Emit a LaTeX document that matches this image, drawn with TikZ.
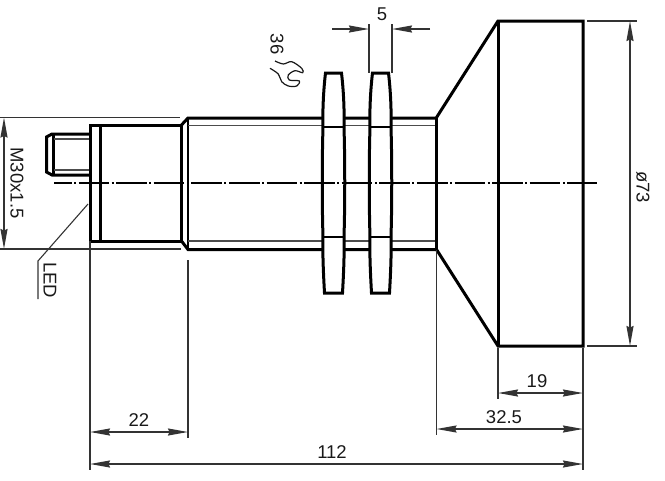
\documentclass[tikz,border=0pt]{standalone}
\usepackage{fontspec}
\setmainfont{Liberation Sans}
\usetikzlibrary{arrows.meta}

\definecolor{dimgray}{gray}{0.2}

\newcommand{\nutshape}[2]{%
  % #1 left, #2 right edge of the nut
  \draw[part,fill=white] (#1+2.5,73) -- (#2-2.5,73)
    .. controls (#2-.5,90) and (#2+.5,110) .. (#2,127)
    .. controls (#2+1,160) and (#2+1,205) .. (#2,237)
    .. controls (#2+.5,255) and (#2-.5,275) .. (#2-1.5,293)
    -- (#1+1.5,293)
    .. controls (#1+.5,275) and (#1-.5,255) .. (#1,237)
    .. controls (#1-1,205) and (#1-1,160) .. (#1,127)
    .. controls (#1-.5,110) and (#1+.5,90) .. (#1+2.5,73) -- cycle;
  \draw[inner] (#1,127) -- (#2,127) (#1,237) -- (#2,237);
}

\begin{document}
\begin{tikzpicture}[x=1pt,y=-1pt,>={Stealth[length=20pt,width=7pt,inset=1.5pt]},
    part/.style={line width=3pt,black,line join=miter},
    inner/.style={line width=2.3pt,black},
    thin part/.style={line width=1.5pt,black!70},
    dim/.style={line width=1.4pt,dimgray},
    label/.style={font=\fontsize{18.5}{20}\selectfont,text=black!90,inner sep=0pt}]

    \useasboundingbox (0,0) rectangle (665,480);

    % connector
    \draw[part] (90,134) -- (52,134) -- (46.5,137) -- (46.5,172) -- (52,175) -- (90,175);
    \draw[inner] (53.5,135) -- (53.5,174);
    \draw[thin part] (54,139) -- (90,139) (54,170) -- (90,170);

    % housing
    \draw[part] (90,125) rectangle (181.5,241);
    \draw[part] (100,125) -- (100,241);
    \draw[part] (181.5,125) -- (188,118) -- (436,118);
    \draw[part] (181.5,241) -- (188,249.5) -- (436,249.5);
    \draw[inner] (188,118) -- (188,249.5);
    \draw[thin part] (188,125.5) -- (436,125.5) (188,241) -- (436,241);

    % nuts
    \nutshape{323}{344}
    \nutshape{370}{391}

    % head
    \draw[inner] (436.5,117) -- (436.5,249.5);
    \draw[part] (436.5,117.5) -- (498,21) -- (583,21) -- (583,346) -- (498,346) -- (436.5,249.5);
    \draw[part] (498,21) -- (498,346);

    % axis
    \draw[line width=1.3pt,black,dash pattern=on 30.6pt off 2.5pt on 2pt off 2.5pt,dash phase=13.1pt]
        (54,183) -- (597,183);

    % spanner
    \draw[line width=1.2pt,black!90] plot[smooth,tension=.55] coordinates
        {(275,61) (283.3,64) (291.7,61.7) (301.7,68.3) (302.7,72.7) (295,70.7) (288.3,75)
         (289.3,80) (299.3,81) (296.7,86) (288.3,86) (281.7,81.7) (278.3,74) (270,68.3)};
    \node[label,rotate=-90] (wrench) at (277,44) {36};

    % extension lines
    \coordinate (m30top) at (4,117.5);
    \coordinate (m30bot) at (4,249);
    \draw[dim] (0,117.5) -- (180,117.5) (0,249) -- (181,249);
    \draw[dim] (369,24) -- (369,73) (392,24) -- (392,73);
    \draw[dim] (587,21) -- (637,21) (587,346) -- (637,346);
    \draw[dim] (90,241) -- (90,470);
    \draw[dim] (188,260) -- (188,438);
    \draw[dim] (436.5,250) -- (436.5,435);
    \draw[dim] (498,348) -- (498,399);
    \draw[dim] (583,348) -- (583,470);

    % dimensions
    \draw[dim,<->] (m30top) -- (m30bot);
    \node[label,rotate=-90] (m30) at (17,183) {M30x1.5};

    \coordinate (a5) at (332,29);
    \coordinate (b5) at (369,29);
    \coordinate (c5) at (392,29);
    \coordinate (d5) at (430,29);
    \draw[dim,->] (a5) -- (b5);
    \draw[dim,->] (d5) -- (c5);
    \node[label] (five) at (382,14) {5};

    \coordinate (a73) at (630,21);
    \coordinate (b73) at (630,346);
    \draw[dim,<->] (a73) -- (b73);
    \node[label,rotate=-90] (dia) at (643,187) {ø73};

    \coordinate (a19) at (498,393);
    \coordinate (b19) at (583,393);
    \draw[dim,<->] (a19) -- (b19);
    \node[label] (l19) at (537,381) {19};

    \coordinate (a325) at (436.5,429);
    \coordinate (b325) at (583,429);
    \draw[dim,<->] (a325) -- (b325);
    \node[label] (l325) at (504,417) {32.5};

    \coordinate (a22) at (90,432);
    \coordinate (b22) at (188,432);
    \draw[dim,<->] (a22) -- (b22);
    \node[label] (l22) at (139,420) {22};

    \coordinate (a112) at (90,464);
    \coordinate (b112) at (583,464);
    \draw[dim,<->] (a112) -- (b112);
    \node[label] (l112) at (332,452) {112};

    % LED leader
    \coordinate (ledtip) at (88,204);
    \coordinate (ledknee) at (38,261);
    \coordinate (ledend) at (38,299);
    \draw[dim,line width=1.1pt] (ledtip) -- (ledknee) -- (ledend);
    \node[label,rotate=-90] (led) at (50,280) {LED};
\end{tikzpicture}
\end{document}
